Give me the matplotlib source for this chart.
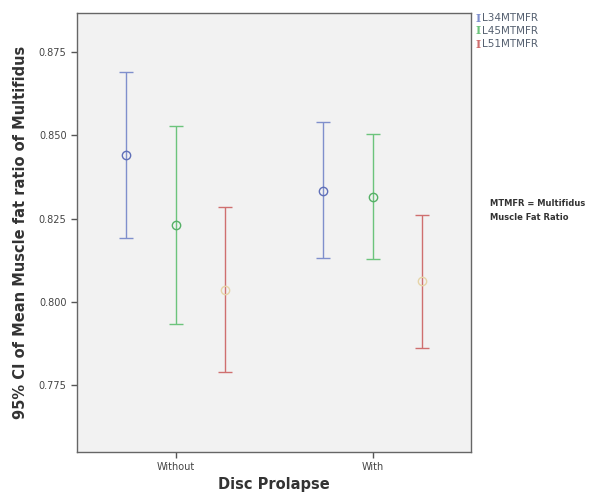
import matplotlib
matplotlib.use("Agg")
import matplotlib.pyplot as plt
import numpy as np

# 数据
groups = ["Without", "With"]
series = ["L34MTMFR", "L45MTMFR", "L51MTMFR"]
means = {
    "L34MTMFR": [0.8440, 0.8334],
    "L45MTMFR": [0.8230, 0.8314],
    "L51MTMFR": [0.8035, 0.8063],
}
lower = {
    "L34MTMFR": [0.8190, 0.8130],
    "L45MTMFR": [0.7932, 0.8128],
    "L51MTMFR": [0.7790, 0.7862],
}
upper = {
    "L34MTMFR": [0.8690, 0.8540],
    "L45MTMFR": [0.8527, 0.8503],
    "L51MTMFR": [0.8284, 0.8262],
}
note_lines = ["MTMFR = Multifidus", "Muscle Fat Ratio"]
colors = {"L34MTMFR": "#7f8fcc", "L45MTMFR": "#6cc47c", "L51MTMFR": "#cf6f6f"}
marker_colors = {"L34MTMFR": "#5f6fb8", "L45MTMFR": "#55b066", "L51MTMFR": "#e6d4a8"}
offsets = [-0.25, 0.0, 0.25]

fig = plt.figure(figsize=(5.94, 4.92), dpi=100)
ax = fig.add_axes([0.1296, 0.0813, 0.6637, 0.8923])
ax.set_facecolor("#f2f2f2")

x = np.arange(len(groups))
for s, off in zip(series, offsets):
    m = np.array(means[s])
    lo = m - np.array(lower[s])
    hi = np.array(upper[s]) - m
    ax.errorbar(x + off, m, yerr=[lo, hi], fmt="none", ecolor=colors[s],
                elinewidth=1.0, capsize=5, capthick=1.0)
    ax.plot(x + off, m, "o", ms=6, mfc="none", mec=marker_colors[s], mew=1.0)

ax.set_xlim(-0.5, 1.5)
ax.set_ylim(0.7549, 0.8867)
ax.set_xticks(x)
ax.set_xticklabels(groups)
ax.set_yticks([0.775, 0.800, 0.825, 0.850, 0.875])
ax.set_yticklabels(["0.775", "0.800", "0.825", "0.850", "0.875"])
ax.tick_params(axis="both", labelsize=7, colors="#555555", length=4, width=1)
ax.tick_params(axis="both", labelcolor="#444444")
for sp in ax.spines.values():
    sp.set_color("#666666")
    sp.set_linewidth(1.0)

ax.set_ylabel("95% CI of Mean Muscle fat ratio of Multifidus", fontsize=10.5,
              fontweight="bold", color="#333333", labelpad=8)
ax.set_xlabel("Disc Prolapse", fontsize=10.5, fontweight="bold", color="#333333",
              labelpad=3)

# 图例 (放在图外右上角)
for i, s in enumerate(series):
    y = 1 - (18 + i * 13) / 492
    fig.text(0.800, y, "I", color=colors[s], fontsize=8, family="DejaVu Serif",
             fontweight="bold", va="center", ha="left")
    fig.text(0.812, y, s, color="#556070", fontsize=7.5, va="center", ha="left")

for i, line in enumerate(note_lines):
    fig.text(0.825, 1 - (203 + i * 15) / 492, line, fontsize=6,
             fontweight="bold", color="#333333", va="center", ha="left")

plt.savefig("out.png", dpi=100)
